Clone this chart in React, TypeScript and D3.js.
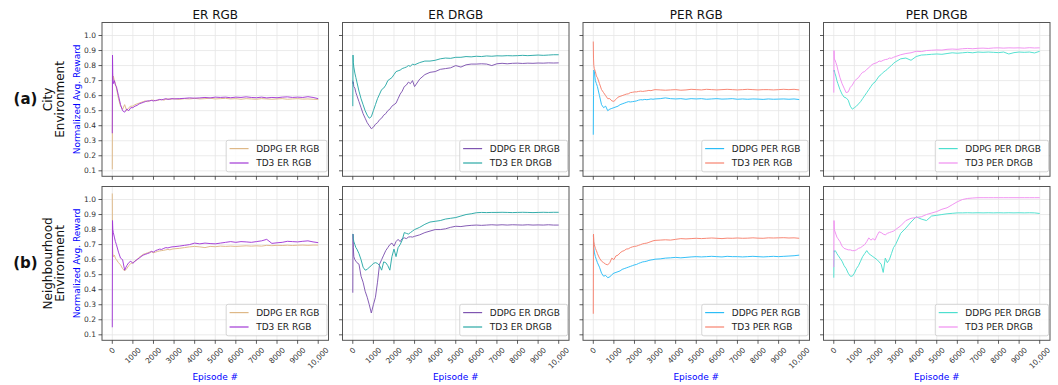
import * as d3 from "d3";

// shared episode grid for every series (dense where the curves move fast)
const EPISODES = [
  0, 10, 25, 50, 100, 150, 200,
  300, 400, 500, 600, 700, 800, 900, 1000, 1100, 1200, 1300, 1400, 1500, 1600, 1700, 1800, 1900, 2000,
  2100, 2200, 2300, 2400, 2500, 2600, 2700, 2800, 2900, 3000,
  3250, 3500, 3750, 4000, 4250, 4500, 4750, 5000, 5250, 5500, 5750, 6000, 6250, 6500, 6750, 7000,
  7250, 7500, 7750, 8000, 8250, 8500, 8750, 9000, 9250, 9500, 9750, 10000,
];

// ---- City environment ----
const CITY_DDPG_ER_RGB = [
  0.11, 0.75, 0.70, 0.73, 0.70, 0.68, 0.65,
  0.58, 0.53, 0.51, 0.54, 0.50, 0.52, 0.53, 0.53, 0.54, 0.545, 0.55, 0.555, 0.56, 0.565, 0.56, 0.565, 0.57, 0.57,
  0.565, 0.57, 0.572, 0.575, 0.57, 0.575, 0.578, 0.575, 0.578, 0.58,
  0.575, 0.58, 0.578, 0.582, 0.578, 0.58, 0.583, 0.578, 0.58, 0.582, 0.578, 0.58, 0.576, 0.58, 0.578, 0.576,
  0.58, 0.578, 0.576, 0.578, 0.58, 0.576, 0.578, 0.58, 0.577, 0.578, 0.576, 0.575,
];
const CITY_TD3_ER_RGB = [
  0.35, 0.87, 0.72, 0.68, 0.70, 0.67, 0.66,
  0.60, 0.54, 0.50, 0.49, 0.51, 0.50, 0.52, 0.52, 0.53, 0.535, 0.545, 0.55, 0.555, 0.56, 0.565, 0.565, 0.568, 0.565,
  0.568, 0.57, 0.575, 0.572, 0.576, 0.58, 0.575, 0.578, 0.58, 0.578,
  0.58, 0.582, 0.585, 0.583, 0.585, 0.588, 0.585, 0.59, 0.588, 0.59, 0.586, 0.59, 0.588, 0.592, 0.588, 0.586,
  0.59, 0.585, 0.588, 0.586, 0.59, 0.592, 0.588, 0.59, 0.588, 0.593, 0.588, 0.58,
];
const CITY_DDPG_ER_DRGB = [
  0.70, 0.68, 0.69, 0.66, 0.65, 0.62, 0.60,
  0.56, 0.52, 0.48, 0.45, 0.42, 0.40, 0.38, 0.39, 0.41, 0.42, 0.44, 0.45, 0.47, 0.48, 0.50, 0.51, 0.53, 0.54,
  0.55, 0.58, 0.61, 0.63, 0.66, 0.67, 0.69, 0.68, 0.70, 0.66,
  0.71, 0.74, 0.755, 0.76, 0.775, 0.78, 0.785, 0.80, 0.79, 0.805, 0.81, 0.81, 0.812, 0.81, 0.80, 0.812,
  0.815, 0.812, 0.815, 0.816, 0.814, 0.816, 0.815, 0.817, 0.816, 0.818, 0.817, 0.818,
];
const CITY_TD3_ER_DRGB = [
  0.53, 0.87, 0.82, 0.79, 0.75, 0.72, 0.69,
  0.63, 0.58, 0.54, 0.50, 0.47, 0.45, 0.46, 0.50, 0.54, 0.58, 0.61, 0.64, 0.65, 0.67, 0.70, 0.71, 0.72, 0.74,
  0.76, 0.765, 0.77, 0.78, 0.785, 0.79, 0.80, 0.795, 0.81, 0.805,
  0.82, 0.83, 0.83, 0.835, 0.845, 0.85, 0.848, 0.855, 0.855, 0.86, 0.858, 0.862, 0.86, 0.864, 0.862, 0.865,
  0.864, 0.866, 0.865, 0.866, 0.868, 0.866, 0.868, 0.87, 0.868, 0.87, 0.872, 0.872,
];
const CITY_DDPG_PER_RGB = [
  0.34, 0.60, 0.77, 0.76, 0.70, 0.68, 0.66,
  0.60, 0.54, 0.52, 0.53, 0.50, 0.51, 0.515, 0.52, 0.525, 0.53, 0.54, 0.545, 0.55, 0.555, 0.56, 0.558, 0.56, 0.562,
  0.565, 0.57, 0.573, 0.572, 0.575, 0.573, 0.575, 0.578, 0.576, 0.578,
  0.58, 0.585, 0.58, 0.578, 0.58, 0.576, 0.58, 0.578, 0.58, 0.576, 0.578, 0.58, 0.577, 0.578, 0.58, 0.576,
  0.578, 0.576, 0.578, 0.577, 0.575, 0.578, 0.576, 0.577, 0.578, 0.576, 0.578, 0.574,
];
const CITY_TD3_PER_RGB = [
  0.96, 0.85, 0.80, 0.78, 0.76, 0.73, 0.72,
  0.68, 0.64, 0.62, 0.60, 0.58, 0.58, 0.565, 0.562, 0.575, 0.59, 0.595, 0.60, 0.605, 0.61, 0.612, 0.62, 0.622, 0.625,
  0.625, 0.628, 0.63, 0.628, 0.63, 0.632, 0.635, 0.633, 0.637, 0.64,
  0.638, 0.636, 0.638, 0.64, 0.636, 0.638, 0.642, 0.64, 0.638, 0.642, 0.64, 0.638, 0.64, 0.642, 0.64, 0.638,
  0.64, 0.642, 0.64, 0.638, 0.64, 0.64, 0.638, 0.64, 0.642, 0.64, 0.642, 0.638,
];
const CITY_DDPG_PER_DRGB = [
  0.77, 0.76, 0.77, 0.75, 0.73, 0.70, 0.68,
  0.64, 0.61, 0.59, 0.585, 0.57, 0.53, 0.51, 0.52, 0.53, 0.545, 0.56, 0.58, 0.60, 0.62, 0.64, 0.66, 0.68, 0.69,
  0.71, 0.73, 0.74, 0.755, 0.765, 0.775, 0.79, 0.80, 0.815, 0.825,
  0.845, 0.85, 0.835, 0.86, 0.87, 0.872, 0.875, 0.877, 0.875, 0.88, 0.885, 0.882, 0.885, 0.888, 0.885, 0.89,
  0.888, 0.89, 0.888, 0.886, 0.89, 0.877, 0.886, 0.89, 0.888, 0.89, 0.884, 0.895,
];
const CITY_TD3_PER_DRGB = [
  0.62, 0.90, 0.84, 0.84, 0.82, 0.80, 0.77,
  0.72, 0.68, 0.65, 0.62, 0.625, 0.655, 0.67, 0.695, 0.71, 0.72, 0.74, 0.755, 0.76, 0.775, 0.785, 0.80, 0.81, 0.815,
  0.82, 0.83, 0.828, 0.835, 0.84, 0.842, 0.85, 0.848, 0.855, 0.86,
  0.872, 0.88, 0.885, 0.895, 0.893, 0.90, 0.902, 0.904, 0.903, 0.908, 0.91, 0.908, 0.912, 0.914, 0.912, 0.915,
  0.916, 0.914, 0.917, 0.918, 0.916, 0.918, 0.917, 0.918, 0.916, 0.919, 0.917, 0.918,
];

// ---- Neighbourhood environment ----
const NB_DDPG_ER_RGB = [
  1.04, 0.70, 0.64, 0.62, 0.63, 0.61, 0.60,
  0.58, 0.565, 0.54, 0.525, 0.54, 0.56, 0.575, 0.58, 0.59, 0.60, 0.615, 0.625, 0.635, 0.64, 0.645, 0.65, 0.652, 0.646,
  0.65, 0.655, 0.658, 0.66, 0.662, 0.665, 0.668, 0.665, 0.67, 0.672,
  0.675, 0.68, 0.685, 0.688, 0.685, 0.68, 0.688, 0.686, 0.69, 0.688, 0.69, 0.688, 0.69, 0.692, 0.69, 0.692,
  0.69, 0.695, 0.693, 0.695, 0.694, 0.696, 0.694, 0.696, 0.697, 0.695, 0.697, 0.697,
];
const NB_TD3_ER_RGB = [
  0.15, 0.86, 0.80, 0.78, 0.75, 0.72, 0.70,
  0.65, 0.61, 0.60, 0.53, 0.56, 0.58, 0.59, 0.575, 0.59, 0.60, 0.61, 0.62, 0.63, 0.635, 0.64, 0.645, 0.655, 0.65,
  0.66, 0.665, 0.67, 0.668, 0.675, 0.68, 0.678, 0.682, 0.685, 0.686,
  0.69, 0.695, 0.70, 0.71, 0.705, 0.71, 0.707, 0.705, 0.71, 0.715, 0.72, 0.715, 0.72, 0.718, 0.715, 0.72,
  0.725, 0.735, 0.708, 0.712, 0.715, 0.722, 0.72, 0.718, 0.722, 0.725, 0.718, 0.713,
];
const NB_DDPG_ER_DRGB = [
  0.38, 0.77, 0.68, 0.62, 0.60, 0.59, 0.58,
  0.57, 0.49, 0.45, 0.39, 0.35, 0.30, 0.245, 0.30, 0.35, 0.45, 0.57, 0.60, 0.63, 0.66, 0.68, 0.70, 0.71, 0.69,
  0.72, 0.735, 0.72, 0.74, 0.745, 0.74, 0.75, 0.752, 0.75, 0.755,
  0.765, 0.78, 0.79, 0.80, 0.80, 0.805, 0.815, 0.822, 0.82, 0.825, 0.828, 0.83, 0.828, 0.83, 0.832, 0.83,
  0.832, 0.83, 0.832, 0.831, 0.83, 0.832, 0.83, 0.831, 0.83, 0.832, 0.83, 0.83,
];
const NB_TD3_ER_DRGB = [
  0.77, 0.77, 0.74, 0.72, 0.70, 0.68, 0.67,
  0.64, 0.60, 0.55, 0.53, 0.535, 0.55, 0.56, 0.575, 0.58, 0.575, 0.56, 0.53, 0.585, 0.58, 0.56, 0.53, 0.62, 0.67,
  0.62, 0.68, 0.70, 0.73, 0.78, 0.775, 0.77, 0.78, 0.79, 0.80,
  0.815, 0.835, 0.85, 0.855, 0.86, 0.87, 0.875, 0.88, 0.89, 0.90, 0.905, 0.912, 0.914, 0.913, 0.914, 0.914,
  0.915, 0.914, 0.913, 0.914, 0.915, 0.914, 0.913, 0.914, 0.915, 0.914, 0.915, 0.915,
];
const NB_DDPG_PER_RGB = [
  0.76, 0.75, 0.68, 0.65, 0.62, 0.60, 0.58,
  0.55, 0.51, 0.49, 0.495, 0.48, 0.485, 0.50, 0.51, 0.515, 0.52, 0.525, 0.535, 0.54, 0.545, 0.55, 0.555, 0.56, 0.565,
  0.568, 0.575, 0.58, 0.585, 0.587, 0.59, 0.595, 0.598, 0.60, 0.603,
  0.605, 0.61, 0.612, 0.615, 0.612, 0.615, 0.618, 0.62, 0.618, 0.62, 0.622, 0.62, 0.618, 0.622, 0.62, 0.62,
  0.618, 0.62, 0.622, 0.62, 0.618, 0.62, 0.622, 0.62, 0.622, 0.624, 0.626, 0.63,
];
const NB_TD3_PER_RGB = [
  0.24, 0.77, 0.72, 0.70, 0.675, 0.66, 0.64,
  0.61, 0.59, 0.58, 0.57, 0.565, 0.58, 0.61, 0.60, 0.625, 0.63, 0.645, 0.655, 0.66, 0.67, 0.672, 0.68, 0.685, 0.688,
  0.69, 0.695, 0.70, 0.705, 0.708, 0.71, 0.715, 0.72, 0.725, 0.728,
  0.73, 0.732, 0.73, 0.735, 0.74, 0.738, 0.74, 0.742, 0.74, 0.742, 0.744, 0.742, 0.74, 0.743, 0.742, 0.744,
  0.742, 0.743, 0.745, 0.743, 0.742, 0.745, 0.744, 0.745, 0.746, 0.744, 0.745, 0.742,
];
const NB_DDPG_PER_DRGB = [
  0.48, 0.66, 0.65, 0.66, 0.655, 0.64, 0.63,
  0.61, 0.59, 0.56, 0.54, 0.51, 0.49, 0.49, 0.51, 0.54, 0.56, 0.59, 0.62, 0.64, 0.66, 0.64, 0.63, 0.62, 0.61,
  0.60, 0.585, 0.57, 0.515, 0.61, 0.58, 0.60, 0.64, 0.68, 0.70,
  0.775, 0.81, 0.85, 0.885, 0.87, 0.86, 0.89, 0.895, 0.90, 0.905, 0.908, 0.911, 0.911, 0.912, 0.911, 0.912,
  0.911, 0.912, 0.911, 0.912, 0.911, 0.912, 0.911, 0.912, 0.911, 0.912, 0.911, 0.907,
];
const NB_TD3_PER_DRGB = [
  0.55, 0.86, 0.80, 0.79, 0.77, 0.75, 0.74,
  0.72, 0.69, 0.675, 0.67, 0.665, 0.665, 0.66, 0.66, 0.665, 0.675, 0.68, 0.69, 0.70, 0.72, 0.745, 0.73, 0.74, 0.73,
  0.76, 0.785, 0.78, 0.77, 0.765, 0.775, 0.78, 0.785, 0.79, 0.80,
  0.825, 0.86, 0.875, 0.88, 0.885, 0.90, 0.91, 0.92, 0.935, 0.945, 0.965, 0.985, 1.0, 1.007, 1.01, 1.012,
  1.012, 1.012, 1.012, 1.012, 1.012, 1.012, 1.012, 1.012, 1.012, 1.012, 1.012, 1.012,
];

const COL_TITLES = ["ER RGB", "ER DRGB", "PER RGB", "PER DRGB"];
const ROW_TAGS = ["(a)", "(b)"];
const ROW_NAMES = [["City", "Environment"], ["Neighbourhood", "Environment"]];
const SERIES_NAMES = [
  ["DDPG ER RGB", "TD3 ER RGB"],
  ["DDPG ER DRGB", "TD3 ER DRGB"],
  ["DDPG PER RGB", "TD3 PER RGB"],
  ["DDPG PER DRGB", "TD3 PER DRGB"],
];
const SERIES_COLORS = [
  ["#deb887", "#a23ad6"],
  ["#7f55b1", "#2aa9a6"],
  ["#2bbdf7", "#f7826f"],
  ["#4ddfcf", "#f08ef0"],
];
const VALUES = [
  [[CITY_DDPG_ER_RGB, CITY_TD3_ER_RGB], [CITY_DDPG_ER_DRGB, CITY_TD3_ER_DRGB], [CITY_DDPG_PER_RGB, CITY_TD3_PER_RGB], [CITY_DDPG_PER_DRGB, CITY_TD3_PER_DRGB]],
  [[NB_DDPG_ER_RGB, NB_TD3_ER_RGB], [NB_DDPG_ER_DRGB, NB_TD3_ER_DRGB], [NB_DDPG_PER_RGB, NB_TD3_PER_RGB], [NB_DDPG_PER_DRGB, NB_TD3_PER_DRGB]],
];
const X_TICKS = [0, 1000, 2000, 3000, 4000, 5000, 6000, 7000, 8000, 9000, 10000];
const X_TICK_LABELS = ["0", "1000", "2000", "3000", "4000", "5000", "6000", "7000", "8000", "9000", "10,000"];
const Y_TICKS = [0.1, 0.2, 0.3, 0.4, 0.5, 0.6, 0.7, 0.8, 0.9, 1.0];

const FONT = "DejaVu Sans, Verdana, sans-serif";
const W = 1058, H = 385;
const LEFT0 = 102, STEP = 240.5, PW = 226.5;
const ROW_TOPS = [22.5, 186.5], PH = 153.8;
const TICK_FS = 7.5, LEG_FS = 9;

// rough DejaVu Sans advance widths (em) for text we need to size
const ADV: Record<string, number> = { D: 0.77, P: 0.603, G: 0.775, E: 0.632, R: 0.695, B: 0.686, T: 0.611, "3": 0.636, " ": 0.318, ",": 0.318 };
const textW = (s: string, fs: number) => s.split("").reduce((a, c) => a + (ADV[c] ?? 0.636), 0) * fs;

const x = d3.scaleLinear().domain([-500, 10500]);
const yDomain: [number, number] = [0.0635, 1.0865];

function Panel({ row, col }: { row: number; col: number }) {
  const left = LEFT0 + col * STEP, top = ROW_TOPS[row];
  const right = left + PW, bottom = top + PH;
  const xs = x.copy().range([left, right]);
  const ys = d3.scaleLinear().domain(yDomain).range([bottom, top]);
  const line = d3.line<number>().x((_, i) => xs(EPISODES[i])).y((v) => ys(v));
  const names = SERIES_NAMES[col], colors = SERIES_COLORS[col];
  const legW = 3.4 + 19 + 7.6 + Math.max(...names.map((n) => textW(n, LEG_FS))) + 7.5;
  const legH = 31.5;
  const legX = right - 1.5 - legW, legY = bottom - 4.5 - legH;
  const clip = `clip-${row}-${col}`;
  return (
    <g>
      <defs>
        <clipPath id={clip}><rect x={left} y={top} width={PW} height={PH} /></clipPath>
      </defs>
      <rect x={left} y={top} width={PW} height={PH} fill="#fff" />
      {X_TICKS.map((t) => (
        <line key={`gx${t}`} x1={xs(t)} x2={xs(t)} y1={top} y2={bottom} stroke="#e6e6e6" strokeWidth={0.8} />
      ))}
      {Y_TICKS.map((t) => (
        <line key={`gy${t}`} x1={left} x2={right} y1={ys(t)} y2={ys(t)} stroke="#e6e6e6" strokeWidth={0.8} />
      ))}
      <g clipPath={`url(#${clip})`}>
        {VALUES[row][col].map((vals, k) => (
          <path key={k} d={line(vals) ?? ""} fill="none" stroke={colors[k]} strokeWidth={1} strokeOpacity={0.95} strokeLinejoin="round" />
        ))}
      </g>
      {/* legend */}
      <rect x={legX} y={legY} width={legW} height={legH} rx={2} fill="#fff" fillOpacity={0.8} stroke="#cccccc" strokeWidth={0.8} />
      {names.map((n, k) => {
        const cy = legY + 8.3 + k * 14.4;
        return (
          <g key={n}>
            <line x1={legX + 3.4} x2={legX + 22.4} y1={cy} y2={cy} stroke={colors[k]} strokeWidth={1.2} />
            <text x={legX + 30} y={cy} dominantBaseline="central" fontSize={LEG_FS} fontFamily={FONT} fill="#222">{n}</text>
          </g>
        );
      })}
      <rect x={left} y={top} width={PW} height={PH} fill="none" stroke="#555" strokeWidth={1} />
      {X_TICKS.map((t) => (
        <line key={`tx${t}`} x1={xs(t)} x2={xs(t)} y1={bottom} y2={bottom + 3.5} stroke="#333" strokeWidth={0.8} />
      ))}
      {Y_TICKS.map((t) => (
        <line key={`ty${t}`} x1={left - 3.5} x2={left} y1={ys(t)} y2={ys(t)} stroke="#333" strokeWidth={0.8} />
      ))}
      {col === 0 && Y_TICKS.map((t) => (
        <text key={`ly${t}`} x={left - 6} y={ys(t)} textAnchor="end" dominantBaseline="central" fontSize={TICK_FS} fontFamily={FONT} fill="#333">
          {t.toFixed(1)}
        </text>
      ))}
      {row === 1 && X_TICKS.map((t, i) => {
        const lab = X_TICK_LABELS[i];
        const h = (textW(lab, TICK_FS) + TICK_FS * 0.95) * Math.SQRT1_2;
        return (
          <text key={`lx${t}`} transform={`translate(${xs(t)},${bottom + 6 + h / 2}) rotate(-45)`} textAnchor="middle"
            dominantBaseline="central" fontSize={TICK_FS} fontFamily={FONT} fill="#333">{lab}</text>
        );
      })}
      {row === 0 && (
        <text x={(left + right) / 2} y={18.5} textAnchor="middle" fontSize={12} fontFamily={FONT} fill="#111">{COL_TITLES[col]}</text>
      )}
      {row === 1 && (
        <text x={(left + right) / 2} y={380} textAnchor="middle" fontSize={9} fontFamily={FONT} fill="blue">Episode #</text>
      )}
    </g>
  );
}

export default function App() {
  return (
    <svg width={W} height={H} style={{ position: "absolute", left: 0, top: 0, display: "block", background: "#fff" }}>
      {ROW_TOPS.map((top, r) => {
        const cy = top + PH / 2;
        return (
          <g key={r}>
            <text x={25.5} y={cy} textAnchor="middle" dominantBaseline="central" fontSize={15} fontWeight="bold" fontFamily={FONT} fill="#111">
              {ROW_TAGS[r]}
            </text>
            {ROW_NAMES[r].map((s, k) => (
              <text key={k} transform={`translate(${48 + k * 12},${cy}) rotate(-90)`} textAnchor="middle" dominantBaseline="central"
                fontSize={12} fontFamily={FONT} fill="#111">{s}</text>
            ))}
            <text transform={`translate(76.5,${cy}) rotate(-90)`} textAnchor="middle" dominantBaseline="central" fontSize={9}
              fontFamily={FONT} fill="blue">Normalized Avg. Reward</text>
          </g>
        );
      })}
      {[0, 1].map((r) => [0, 1, 2, 3].map((c) => <Panel key={`${r}-${c}`} row={r} col={c} />))}
    </svg>
  );
}
